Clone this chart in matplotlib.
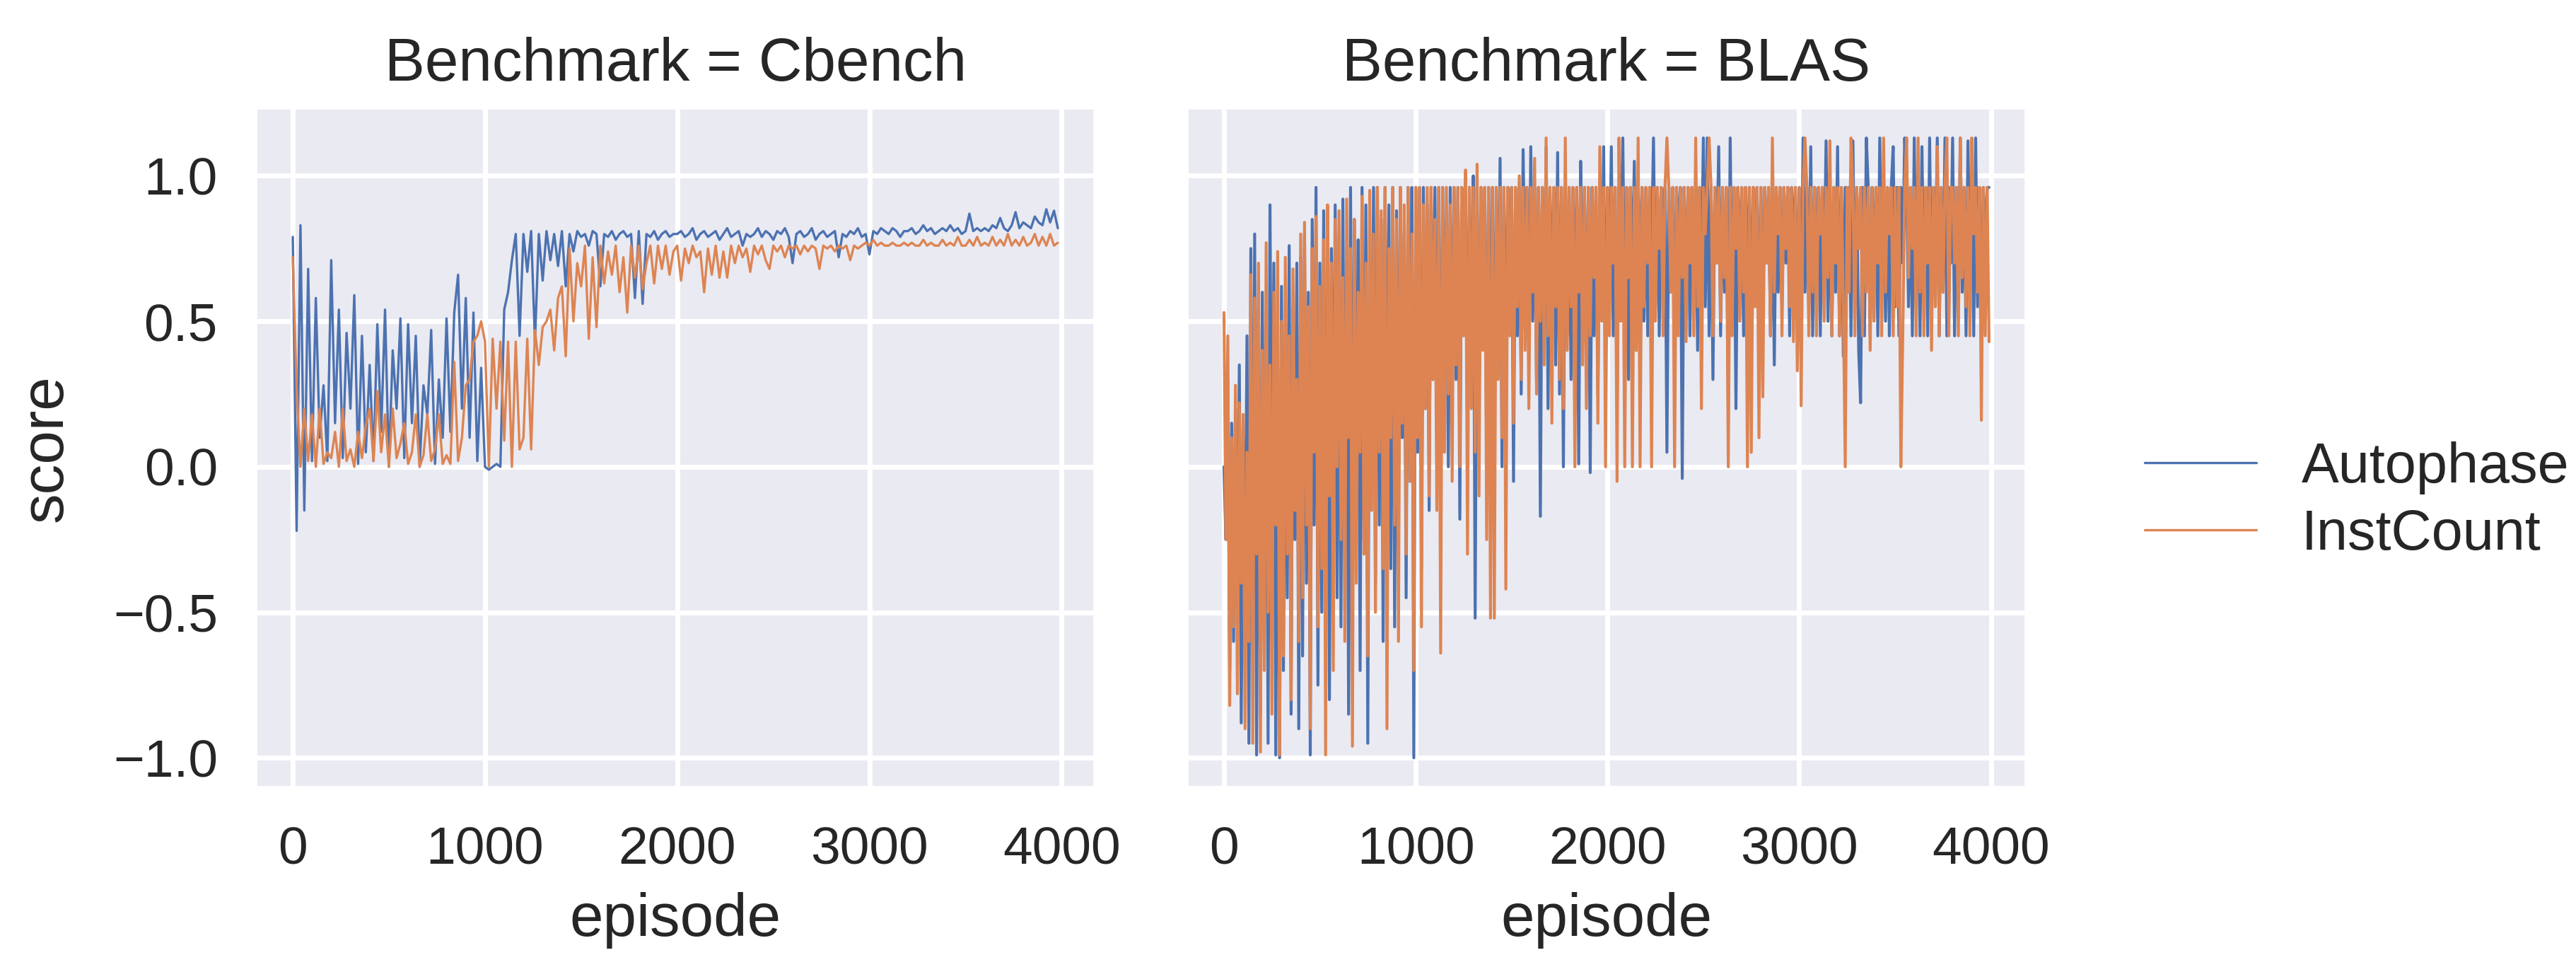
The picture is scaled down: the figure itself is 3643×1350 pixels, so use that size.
import numpy as np
import matplotlib
matplotlib.use("Agg")
import matplotlib.pyplot as plt
import seaborn as sns

# episodes sampled every 20 (Cbench) and every 10 (BLAS)
cbench_ep = np.arange(0, 4000, 20)
blas_ep = np.arange(0, 4000, 10)

cbench_autophase = [
    0.79, -0.22, 0.83, -0.15, 0.68, 0.02, 0.58, 0.10, 0.28, 0.02, 0.71, 0.15, 0.54, 0.03, 0.46, 0.20, 0.59, 0.01, 0.45, 0.05,
    0.35, 0.02, 0.49, 0.12, 0.54, 0.00, 0.40, 0.20, 0.51, 0.03, 0.49, 0.15, 0.45, 0.00, 0.28, 0.18, 0.47, 0.01, 0.30, 0.10,
    0.51, 0.12, 0.53, 0.66, 0.20, 0.58, 0.10, 0.53, 0.02, 0.34, 0.00, -0.01, 0.00, 0.01, 0.00, 0.54, 0.60, 0.71, 0.80, 0.45,
    0.80, 0.67, 0.81, 0.43, 0.80, 0.64, 0.81, 0.71, 0.80, 0.69, 0.81, 0.62, 0.80, 0.74, 0.81, 0.79, 0.80, 0.76, 0.81, 0.80,
    0.62, 0.80, 0.79, 0.81, 0.78, 0.80, 0.81, 0.79, 0.80, 0.58, 0.81, 0.56, 0.80, 0.79, 0.81, 0.78, 0.80, 0.81, 0.79, 0.80,
    0.80, 0.81, 0.79, 0.80, 0.82, 0.78, 0.80, 0.81, 0.79, 0.80, 0.81, 0.78, 0.80, 0.82, 0.79, 0.80, 0.81, 0.76, 0.80, 0.79,
    0.80, 0.82, 0.79, 0.81, 0.80, 0.78, 0.81, 0.80, 0.82, 0.79, 0.70, 0.80, 0.81, 0.79, 0.80, 0.82, 0.78, 0.80, 0.81, 0.79,
    0.80, 0.81, 0.72, 0.80, 0.79, 0.81, 0.80, 0.82, 0.79, 0.80, 0.73, 0.81, 0.80, 0.82, 0.81, 0.80, 0.82, 0.81, 0.79, 0.81,
    0.81, 0.82, 0.80, 0.81, 0.83, 0.81, 0.82, 0.80, 0.81, 0.82, 0.81, 0.83, 0.81, 0.82, 0.80, 0.81, 0.87, 0.81, 0.82, 0.81,
    0.82, 0.81, 0.83, 0.82, 0.855, 0.82, 0.81, 0.83, 0.875, 0.82, 0.84, 0.83, 0.82, 0.86, 0.84, 0.83, 0.885, 0.84, 0.88, 0.82,
]

cbench_instcount = [
    0.72, 0.27, 0.00, 0.20, 0.02, 0.18, 0.00, 0.20, 0.01, 0.05, 0.03, 0.12, 0.00, 0.20, 0.02, 0.06, 0.00, 0.12, 0.03, 0.14,
    0.20, 0.02, 0.26, 0.05, 0.18, 0.00, 0.20, 0.03, 0.08, 0.15, 0.01, 0.05, 0.18, 0.00, 0.04, 0.18, 0.02, 0.06, 0.18, 0.01,
    0.04, 0.01, 0.36, 0.02, 0.10, 0.28, 0.30, 0.43, 0.45, 0.50, 0.43, 0.00, 0.44, 0.20, 0.43, 0.09, 0.43, 0.00, 0.43, 0.06,
    0.10, 0.44, 0.06, 0.47, 0.35, 0.48, 0.50, 0.54, 0.40, 0.58, 0.62, 0.38, 0.75, 0.50, 0.70, 0.62, 0.76, 0.44, 0.72, 0.48,
    0.76, 0.63, 0.74, 0.66, 0.76, 0.60, 0.72, 0.53, 0.76, 0.65, 0.76, 0.61, 0.70, 0.76, 0.63, 0.76, 0.68, 0.76, 0.66, 0.74,
    0.76, 0.64, 0.75, 0.70, 0.76, 0.72, 0.74, 0.60, 0.75, 0.66, 0.76, 0.65, 0.74, 0.65, 0.76, 0.70, 0.76, 0.72, 0.75, 0.67,
    0.76, 0.73, 0.76, 0.71, 0.68, 0.76, 0.74, 0.76, 0.72, 0.76, 0.75, 0.76, 0.73, 0.76, 0.74, 0.76, 0.75, 0.68, 0.76, 0.75,
    0.76, 0.74, 0.76, 0.75, 0.76, 0.71, 0.76, 0.75, 0.76, 0.77, 0.76, 0.78, 0.76, 0.77, 0.76, 0.76, 0.77, 0.76, 0.76, 0.77,
    0.76, 0.77, 0.76, 0.76, 0.78, 0.76, 0.77, 0.76, 0.76, 0.78, 0.76, 0.77, 0.76, 0.79, 0.76, 0.76, 0.78, 0.76, 0.79, 0.76,
    0.77, 0.76, 0.79, 0.76, 0.78, 0.76, 0.80, 0.76, 0.78, 0.76, 0.79, 0.76, 0.77, 0.80, 0.76, 0.79, 0.76, 0.80, 0.76, 0.77,
]

blas_autophase = [
    0.00, -0.25, 0.30, -0.70, 0.15, -0.60, 0.20, -0.55, 0.35, -0.88, 0.10, -0.45, 0.45, -0.95, 0.75, -0.60, 0.80, -0.99, 0.55, -0.85,
    0.60, -0.55, 0.50, -0.95, 0.90, -0.30, 0.70, -0.99, 0.40, -1.00, 0.62, -0.70, 0.35, -0.45, 0.76, -0.85, 0.55, -0.25, 0.70, -0.90,
    0.72, -0.65, 0.80, -0.40, 0.60, -0.99, 0.85, -0.20, 0.96, -0.75, 0.70, -0.50, 0.88, -0.30, 0.65, -0.80, 0.75, -0.10, 0.90, -0.45,
    0.80, -0.55, 0.92, -0.20, 0.70, -0.85, 0.96, -0.30, 0.85, 0.00, 0.78, -0.70, 0.96, -0.25, 0.90, -0.95, 0.80, -0.10, 0.96, -0.40,
    0.96, -0.20, 0.85, -0.60, 0.96, 0.00, 0.90, -0.35, 0.96, -0.55, 0.88, -0.15, 0.96, 0.10, 0.80, -0.45, 0.96, -0.05, 0.96, -1.00,
    0.96, 0.05, 0.96, -0.35, 0.96, 0.20, 0.90, -0.15, 0.96, 0.30, 0.96, 0.10, 0.96, -0.20, 0.96, 0.40, 0.85, 0.00, 0.96, 0.25,
    0.96, 0.30, 0.96, -0.18, 0.96, 0.50, 0.96, 0.10, 0.96, 0.35, 1.00, -0.52, 0.96, 0.20, 0.96, 0.45, 0.96, 0.05, 0.96, 0.30,
    0.96, 0.10, 0.96, 0.40, 1.06, 0.00, 0.96, 0.30, 0.96, 0.50, 0.96, -0.05, 0.96, 0.45, 0.96, 0.25, 1.09, 0.60, 0.96, 0.35,
    1.10, 0.50, 0.96, 0.30, 0.96, -0.17, 0.96, 0.45, 1.10, 0.20, 0.96, 0.55, 0.96, 0.35, 1.08, 0.25, 0.96, 0.00, 0.96, 0.45,
    0.96, 0.30, 0.96, 0.60, 0.96, 0.01, 1.05, 0.50, 0.96, 0.35, 0.96, -0.02, 0.96, 0.45, 0.96, 0.25, 0.96, 0.55, 1.10, 0.30,
    0.96, 0.60, 1.10, 0.45, 0.96, 0.20, 0.96, 0.70, 1.13, 0.45, 0.96, 0.30, 0.96, 0.65, 1.05, 0.40, 0.96, 0.70, 0.96, 0.50,
    0.96, 0.45, 0.96, 0.75, 1.13, 0.55, 0.96, 0.45, 0.96, 0.70, 0.96, 0.05, 0.96, 0.60, 0.96, 0.45, 0.96, 0.80, 0.96, -0.04,
    0.96, 0.55, 0.96, 0.45, 0.96, 0.70, 0.96, 0.40, 0.96, 0.65, 1.13, 0.55, 1.13, 0.45, 0.96, 0.30, 0.96, 0.70, 1.10, 0.45,
    0.96, 0.60, 0.96, 0.20, 1.13, 0.50, 0.96, 0.20, 0.96, 0.70, 0.96, 0.45, 0.96, 0.65, 0.96, 0.50, 0.96, 0.75, 0.96, 0.45,
    0.96, 0.50, 0.96, 0.70, 0.96, 0.45, 0.96, 0.35, 0.96, 0.60, 0.96, 0.55, 0.96, 0.70, 0.96, 0.45, 0.96, 0.80, 0.96, 0.55,
    0.96, 0.45, 1.13, 0.60, 0.96, 0.55, 1.10, 0.45, 0.96, 0.70, 0.96, 0.45, 0.96, 0.65, 1.12, 0.50, 0.96, 0.45, 0.96, 0.60,
    1.10, 0.45, 0.96, 0.38, 0.96, 0.60, 0.96, 0.45, 1.12, 0.55, 0.96, 0.40, 0.22, 0.96, 0.45, 1.13, 0.96, 0.45, 0.96, 0.70,
    0.96, 0.45, 1.13, 0.60, 0.96, 0.50, 0.96, 0.45, 0.96, 1.10, 0.55, 0.96, 0.45, 0.96, 0.70, 1.13, 0.96, 0.55, 0.96, 0.45,
    1.13, 0.55, 0.96, 0.45, 1.10, 0.60, 0.96, 0.45, 1.13, 0.55, 0.96, 0.70, 1.13, 0.45, 0.96, 0.60, 1.13, 0.45, 0.96, 0.70,
    1.13, 0.45, 0.96, 0.55, 1.13, 0.60, 0.96, 0.45, 1.12, 0.65, 0.96, 0.45, 1.13, 0.55, 0.96, 0.45, 0.96, 0.75, 0.96, 0.96,
]

blas_instcount = [
    0.53, -0.25, 0.45, -0.82, 0.10, -0.55, 0.28, -0.78, 0.22, -0.40, 0.18, -0.90, 0.05, -0.60, 0.66, -0.95, 0.58, -0.30, 0.70, -0.98,
    0.40, -0.70, 0.77, -0.50, 0.35, -0.85, 0.60, -0.20, 0.74, -0.99, 0.50, -0.65, 0.72, -0.30, 0.45, -0.80, 0.68, -0.15, 0.30, -0.60,
    0.80, -0.45, 0.84, -0.20, 0.55, -0.90, 0.75, 0.05, 0.86, -0.55, 0.62, -0.35, 0.78, -0.99, 0.90, -0.10, 0.70, -0.70, 0.85, 0.00,
    0.88, -0.25, 0.65, -0.60, 0.92, 0.10, 0.75, -0.96, 0.85, -0.40, 0.60, 0.05, 0.93, -0.30, 0.70, -0.65, 0.95, -0.15, 0.80, -0.50,
    0.96, 0.05, 0.88, -0.35, 0.96, -0.90, 0.75, 0.10, 0.96, -0.20, 0.85, -0.60, 0.96, 0.15, 0.90, -0.30, 0.96, -0.05, 0.80, -0.70,
    0.96, 0.10, 0.96, -0.55, 0.90, 0.20, 0.96, -0.10, 0.96, 0.30, 0.85, -0.15, 0.96, -0.64, 0.96, 0.05, 0.96, 0.25, 0.90, -0.05,
    0.96, 0.35, 0.96, 0.00, 0.96, 0.45, 1.02, -0.30, 0.96, 0.20, 0.96, 0.05, 1.04, -0.10, 0.96, 0.40, 0.96, -0.25, 0.96, -0.52,
    0.96, -0.52, 0.96, 0.30, 0.96, 0.10, 0.96, -0.42, 0.96, 0.45, 0.96, 0.15, 0.96, 0.55, 1.00, 0.30, 0.96, 0.40, 0.96, 0.20,
    0.96, 0.60, 1.06, 0.25, 0.96, 0.50, 0.96, 0.35, 1.13, 0.45, 0.96, 0.15, 0.96, 0.55, 0.96, 0.30, 0.96, 0.20, 1.13, 0.40,
    0.96, 0.55, 0.96, 0.00, 0.96, 0.60, 0.96, 0.35, 0.96, 0.20, 0.96, 0.45, 0.96, 0.65, 0.96, 0.15, 1.10, 0.50, 0.96, 0.00,
    0.96, 0.45, 0.96, 0.70, 0.96, -0.05, 1.13, 0.50, 0.96, 0.00, 0.96, 0.65, 0.96, 0.00, 0.96, 0.40, 1.13, 0.00, 0.96, 0.55,
    0.96, 0.70, 0.96, 0.00, 0.96, 0.50, 0.96, 0.75, 0.96, 0.45, 0.96, 1.13, 0.96, 0.60, 0.96, 0.00, 0.96, 0.45, 0.96, 0.65,
    0.96, 0.43, 0.96, 0.70, 0.96, 0.45, 1.13, 0.55, 0.96, 0.20, 0.96, 0.80, 0.96, 1.13, 0.96, 0.45, 0.96, 0.70, 0.96, 0.50,
    0.96, 0.65, 0.96, 0.00, 0.96, 0.45, 0.96, 0.75, 0.96, 0.50, 0.96, 0.60, 0.96, 0.00, 0.96, 0.05, 0.96, 0.55, 0.96, 0.10,
    0.96, 0.24, 0.96, 0.70, 0.96, 0.45, 1.13, 0.60, 0.96, 0.80, 0.96, 0.45, 0.96, 0.75, 0.96, 0.55, 0.96, 0.43, 0.96, 0.33,
    0.96, 0.21, 0.96, 1.13, 0.96, 0.45, 0.96, 0.60, 0.96, 0.45, 0.96, 0.80, 0.96, 0.50, 0.96, 0.65, 1.12, 0.45, 0.96, 0.70,
    0.96, 0.45, 0.96, 0.55, 0.00, 0.96, 0.60, 1.13, 0.96, 0.45, 0.96, 0.75, 0.96, 0.45, 0.96, 0.60, 0.96, 0.40, 0.96, 0.50,
    0.96, 0.70, 0.96, 0.45, 1.13, 0.60, 0.96, 0.80, 0.96, 0.45, 0.96, 0.55, 0.96, 0.00, 0.45, 0.96, 1.13, 0.65, 0.96, 0.75,
    0.96, 0.45, 1.13, 0.60, 0.96, 0.45, 0.96, 0.70, 0.96, 0.40, 0.96, 0.55, 1.10, 0.45, 0.96, 0.60, 0.96, 1.13, 0.45, 0.96,
    0.96, 0.70, 0.96, 0.45, 1.13, 0.65, 0.96, 0.55, 0.96, 0.45, 1.13, 0.80, 0.96, 0.60, 0.96, 0.16, 0.96, 0.45, 0.96, 0.43,
]

benchmarks = ["Cbench", "BLAS"]
observations = ["Autophase", "InstCount"]

sns.set_theme(context="talk", style="darkgrid")
plt.rcParams["font.family"] = ["Liberation Sans", "DejaVu Sans"]
plt.rcParams["grid.linewidth"] = 1.7

colors = sns.color_palette("deep")[:2]

fig, axes = plt.subplots(1, 2, sharey=True, figsize=(3643 / 300, 1350 / 300), dpi=300)
fig.subplots_adjust(left=0.0988, right=0.787, bottom=0.174, top=0.888, wspace=0.1065)

data = {
    "Cbench": (cbench_ep, [cbench_autophase, cbench_instcount]),
    "BLAS": (blas_ep, [blas_autophase, blas_instcount]),
}

for ax, bench in zip(axes, benchmarks):
    ep, series = data[bench]
    for ys, name, c in zip(series, observations, colors):
        ax.plot(ep, ys, color=c, lw=1.0, label=name)
    ax.set_title(f"Benchmark = {bench}", fontsize=20.5, pad=9)
    ax.set_xlabel("episode", fontsize=20.5, labelpad=6)
    ax.tick_params(labelsize=18)
    ax.set_xticks([0, 1000, 2000, 3000, 4000])

axes[0].set_ylabel("score", fontsize=20.5, labelpad=13)
axes[0].set_yticks([-1.0, -0.5, 0.0, 0.5, 1.0])

handles, labels = axes[0].get_legend_handles_labels()
for h in handles:
    h.set_linewidth(0.8)
fig.legend(handles, labels, loc="center left", bbox_to_anchor=(0.813, 0.475),
           frameon=False, fontsize=19, labelspacing=0.25, handlelength=2.0)

fig.savefig("out.png", dpi=300)
